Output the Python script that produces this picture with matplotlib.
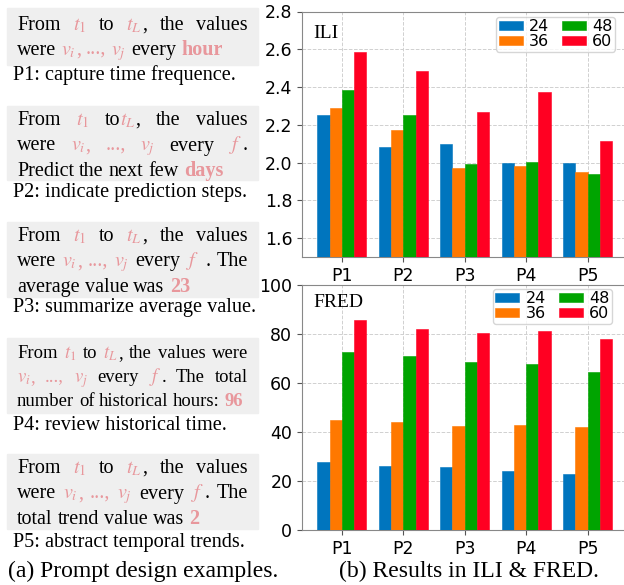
import re
import matplotlib
matplotlib.use("Agg")
import matplotlib.pyplot as plt
import numpy as np

# ---- data ----
prompts = ["P1", "P2", "P3", "P4", "P5"]
horizons = ["24", "36", "48", "60"]

ili_24 = [2.25, 2.08, 2.10, 2.00, 2.00]
ili_36 = [2.29, 2.17, 1.97, 1.98, 1.95]
ili_48 = [2.385, 2.25, 1.995, 2.005, 1.94]
ili_60 = [2.585, 2.485, 2.27, 2.375, 2.115]

fred_24 = [27.6, 26.0, 25.9, 24.1, 22.9]
fred_36 = [44.8, 44.2, 42.6, 42.9, 42.0]
fred_48 = [72.7, 71.2, 68.7, 67.6, 64.6]
fred_60 = [85.9, 82.2, 80.3, 81.2, 78.1]

bar_colors = ["#0075be", "#ff7800", "#00a400", "#ff0022"]

# prompt boxes: {math}, [bold pink], <pink>
box_lines = [
    ["From {t_1} to {t_L}, the values",
     "were {v_i}<,> <...,> {v_j} every [hour]"],
    ["From {t_1} to{t_L}, the values",
     "were {v_i}<,> <...,> {v_j} every {f}.",
     "Predict the next few [days]"],
    ["From {t_1} to {t_L}, the values",
     "were {v_i}<,> <...,> {v_j} every {f} . The",
     "average value was [23]"],
    ["From {t_1} to {t_L}, the values were",
     "{v_i}<,> <...,> {v_j} every {f}. The total",
     "number of historical hours: [96]"],
    ["From {t_1} to {t_L}, the values",
     "were {v_i}<,> <...,> {v_j} every {f}. The",
     "total trend value was [2]"],
]
box_captions = [
    "P1: capture time frequence.",
    "P2: indicate prediction steps.",
    "P3: summarize average value.",
    "P4: review historical time.",
    "P5: abstract temporal trends.",
]

plt.rcParams["mathtext.fontset"] = "stix"
SERIF = "Liberation Serif"
PINK = "#e8979c"

W, H = 624, 585
fig = plt.figure(figsize=(W / 100, H / 100), dpi=100)
renderer = fig.canvas.get_renderer()


def px(x, y):
    return x / W, 1 - y / H


def put(x, y, s, size, color="black", weight="normal"):
    return fig.text(*px(x, y), s, fontsize=size, family=SERIF, color=color,
                    weight=weight, va="baseline", ha="left")


def draw_line(line, y, size, justify, x0=17, x1=248):
    words = []
    for word in line.split(" "):
        pieces = []
        for seg in re.findall(r"\{[^}]*\}|\[[^\]]*\]|<[^>]*>|[^{\[<]+", word):
            if seg.startswith("{"):
                t = put(0, y, "$" + seg[1:-1] + "$", size, color=PINK)
            elif seg.startswith("["):
                t = put(0, y, seg[1:-1], size, color=PINK, weight="bold")
            elif seg.startswith("<"):
                t = put(0, y, seg[1:-1], size, color=PINK)
            else:
                t = put(0, y, seg, size)
            pieces.append((t, t.get_window_extent(renderer).width))
        words.append(pieces)
    total = sum(w for p in words for _, w in p)
    gap = size * 100 / 72 * 0.25
    if justify and len(words) > 1:
        gap = (x1 - x0 - total) / (len(words) - 1)
    x = x0
    for pieces in words:
        for t, w in pieces:
            t.set_position(px(x, y))
            x += w
        x += gap


# (box top, box bottom, first baseline, line step, caption baseline, font size)
box_geom = [
    (8, 65, 30, 25, 80, 14.5),
    (106, 180, 125, 25.5, 197, 14.5),
    (222, 297, 241, 25.5, 312, 14.5),
    (338, 413, 358, 24, 430, 13.4),
    (454, 529, 473, 25.5, 547, 14.5),
]

for lines, cap, (top, bot, y0, step, ycap, fs) in zip(box_lines, box_captions, box_geom):
    fig.patches.append(plt.Rectangle(px(7, bot), 251 / W, (bot - top) / H,
                                     transform=fig.transFigure, color="#efefef",
                                     zorder=0))
    for i, line in enumerate(lines):
        draw_line(line, y0 + i * step, fs, justify=(i < len(lines) - 1))
    put(13, ycap, cap, 14.6)

put(8, 577, "(a) Prompt design examples.", 17)
put(339, 577, "(b) Results in ILI & FRED.", 17)

# ---- bar charts ----
x = np.arange(len(prompts))
bw = 0.2
offsets = [-0.3, -0.1, 0.1, 0.3]

ax1 = fig.add_axes([302 / W, (585 - 257) / H, 325.5 / W, 245.5 / H])
ax2 = fig.add_axes([302 / W, (585 - 530) / H, 325.5 / W, 245 / H])

panels = [
    (ax1, [ili_24, ili_36, ili_48, ili_60], "ILI", (1.5, 2.8),
     np.arange(1.6, 2.81, 0.2), (0.962, 0.978), 0.912),
    (ax2, [fred_24, fred_36, fred_48, fred_60], "FRED", (0, 100),
     np.arange(0, 101, 20), (0.952, 0.984), 0.927),
]

for ax, series, name, ylim, yticks, anchor, ty in panels:
    for vals, off, col, lab in zip(series, offsets, bar_colors, horizons):
        ax.bar(x + off, vals, bw, color=col, label=lab, edgecolor=col,
               linewidth=0.4, zorder=3)
    ax.set_xlim(-0.65, 4.65)
    ax.set_ylim(*ylim)
    ax.set_yticks(yticks)
    if name == "ILI":
        ax.set_yticklabels([f"{v:.1f}" for v in yticks])
    ax.set_xticks(x)
    ax.set_xticklabels(prompts)
    ax.tick_params(labelsize=12.5, colors="#555555", labelcolor="black")
    ax.grid(True, linestyle="--", color="#d0d0d0", linewidth=0.7, zorder=0)
    ax.set_axisbelow(True)
    for sp in ax.spines.values():
        sp.set_color("#888888")
    ax.text(0.035, ty, name, transform=ax.transAxes, family=SERIF,
            fontsize=14, va="center", ha="left")
    ax.legend(ncol=2, loc="upper right", bbox_to_anchor=anchor,
              borderaxespad=0, fontsize=11.5, handlelength=1.5,
              handleheight=0.5, labelspacing=0.0, columnspacing=0.8,
              handletextpad=0.4, borderpad=0.15, edgecolor="#cccccc")

fig.savefig("out.png", dpi=100)
